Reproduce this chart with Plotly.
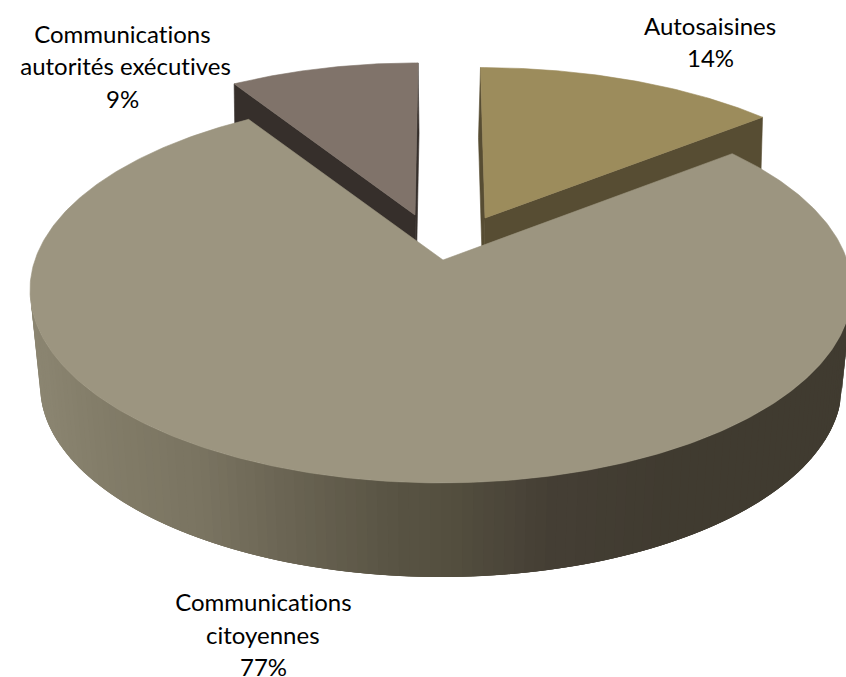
import numpy as np
import plotly.graph_objects as go

# Share of each category, clockwise from twelve o'clock
categories = ["Autosaisines", "Communications citoyennes", "Communications autorités exécutives"]
shares = [14, 77, 9]

# Label lines and where they sit on the page
label_lines = [
    ("Autosaisines", 710, 25), ("14%", 710, 57),
    ("Communications", 263, 601), ("citoyennes", 263, 634), ("77%", 263, 666),
    ("Communications", 122, 33), ("autorités exécutives", 125, 65), ("9%", 122, 98),
]

TOP = {"Autosaisines": "#9c8c5c", "Communications citoyennes": "#9c9580",
       "Communications autorités exécutives": "#80736a"}
CUT = {"Autosaisines": "#574d33", "Communications autorités exécutives": "#362f2b"}

# Perspective strength: how far the disc centre sits above the ellipse centre
TILT = 0.155

# apex_x, apex_y, rx, ry, lean, depth offset of the exploded wedges
WEDGES = {
    "Autosaisines": dict(ax=485, ay=218, rx=405, ry=178, lean=0.03, ddx=-2, ddy=70),
    "Communications citoyennes": dict(ax=441, ay=260, rx=411, ry=193, lean=0.0, ddx=0, ddy=95),
    "Communications autorités exécutives": dict(ax=415, ay=215, rx=392, ry=180, lean=-0.02, ddx=1, ddy=70),
}

SIDE_STOPS_X = [30, 100, 200, 290, 400, 445, 550, 680, 750, 860]
SIDE_STOPS_RGB = [(140, 134, 114), (131, 125, 105), (122, 116, 97), (106, 100, 83), (88, 83, 67),
                  (85, 80, 64), (69, 63, 53), (64, 59, 48), (64, 59, 48), (64, 59, 48)]


def to_page(theta, w):
    """Map a clockwise angle on the disc to page pixels through the tilt."""
    u, v = np.sin(theta), np.cos(theta)
    den = 1 + TILT * v
    big_y = (v + TILT) / den
    big_x = u * np.sqrt(1 - TILT ** 2) / den
    py = w["ay"] + TILT * w["ry"] - w["ry"] * big_y
    px = w["ax"] + w["rx"] * big_x + w["lean"] * (py - w["ay"])
    return px, py


def polygon(xs, ys, color, edge=0.6):
    return go.Scatter(x=list(xs), y=list(ys), mode="lines", fill="toself", fillcolor=color,
                      line=dict(color=color, width=edge), hoverinfo="skip", showlegend=False)


def side_color(x):
    rgb = [np.interp(x, SIDE_STOPS_X, [s[i] for s in SIDE_STOPS_RGB]) for i in range(3)]
    return "rgb(%d,%d,%d)" % tuple(rgb)


total = sum(shares)
edges = np.cumsum([0] + shares) / total * 2 * np.pi
spans = {c: (edges[i], edges[i + 1]) for i, c in enumerate(categories)}

fig = go.Figure()

# The two small exploded wedges: cut faces first, top faces over them
for name in ("Communications autorités exécutives", "Autosaisines"):
    w = WEDGES[name]
    start, end = spans[name]
    for edge in (start, end):
        ex, ey = to_page(edge, w)
        fig.add_trace(polygon(
            [w["ax"], ex, ex + w["ddx"], w["ax"] + w["ddx"], w["ax"]],
            [w["ay"], ey, ey + w["ddy"], w["ay"] + w["ddy"], w["ay"]],
            CUT[name]))
    t = np.linspace(start, end, 80)
    px, py = to_page(t, w)
    fig.add_trace(polygon([w["ax"], *px, w["ax"]], [w["ay"], *py, w["ay"]], TOP[name]))

# Rim of the large wedge: narrow bands shaded left to right, each one
# running under the next so that no seam shows between them
w = WEDGES["Communications citoyennes"]
cx, cy, rx, ry = w["ax"], w["ay"] + TILT * w["ry"], w["rx"], w["ry"]
bottom = dict(cx=441, cy=385, rx=401, ry=192)
phi = np.linspace(np.pi, 0, 121)
for i in range(len(phi) - 1):
    run = phi[i:i + 4]
    tx, ty = cx + rx * np.cos(run), cy + ry * np.sin(run)
    bx, by = bottom["cx"] + bottom["rx"] * np.cos(run), bottom["cy"] + bottom["ry"] * np.sin(run)
    fig.add_trace(polygon([*tx, *bx[::-1], tx[0]], [*ty, *by[::-1], ty[0]],
                          side_color(tx[:2].mean()), edge=0))

# Top face of the large wedge; the leading edge opens slightly with the view angle
start, end = spans["Communications citoyennes"]
t = np.linspace(start + np.radians(1.4), end, 400)
px, py = to_page(t, w)
fig.add_trace(polygon([w["ax"] + 2, *px, w["ax"] + 2], [w["ay"], *py, w["ay"]], TOP["Communications citoyennes"]))

for text, x, y in label_lines:
    fig.add_annotation(x=x, y=y, text=text, showarrow=False, xanchor="center", yanchor="middle",
                       font=dict(family="Lato, Carlito, sans-serif", size=24, color="#000000"))

fig.update_layout(
    width=846, height=677, margin=dict(l=0, r=0, t=0, b=0),
    paper_bgcolor="white", plot_bgcolor="white", showlegend=False,
    xaxis=dict(range=[0, 846], visible=False, fixedrange=True),
    yaxis=dict(range=[677, 0], visible=False, fixedrange=True),
)

# Plain letterforms for the labels, without joined "ti" glyphs
no_ligatures = (
    "var s=document.createElement('style');"
    "s.textContent='text{font-variant-ligatures:none !important}';"
    "document.head.appendChild(s);"
)
fig.write_html("out.html", config={"displayModeBar": False}, post_script=no_ligatures)
